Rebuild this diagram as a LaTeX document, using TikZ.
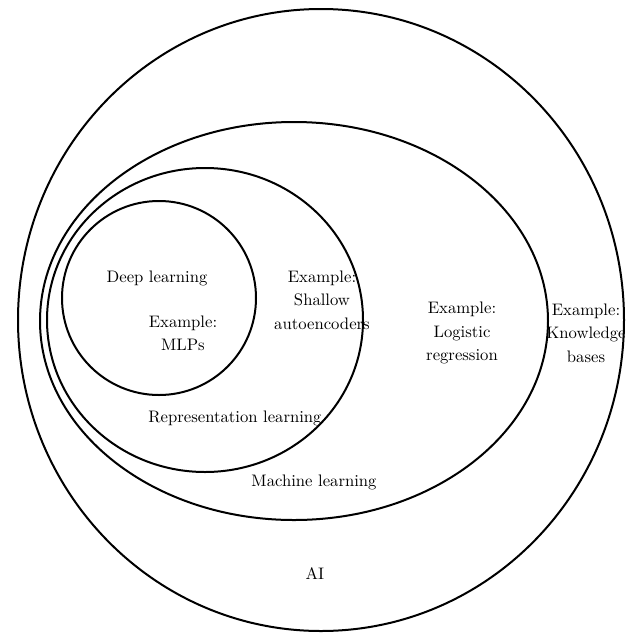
\documentclass[tikz,border=0pt]{standalone}
\begin{document}
\begin{tikzpicture}[x=0.6pt,y=-0.6pt,
  ring/.style={line width=1.2pt},
  lbl/.style={align=center,font=\normalsize,inner sep=0pt}]
\useasboundingbox (0,0) rectangle (640,636);
\draw[ring] (321,320) ellipse [x radius=303, y radius=311];
\draw[ring] (294,321) ellipse [x radius=254, y radius=199];
\draw[ring] (205,320) ellipse [x radius=158, y radius=152];
\draw[ring] (159,298) circle [radius=97];
\node[lbl] (dl) at (157,278) {Deep learning};
\node[lbl] (mlp) at (183,333) {Example:\\[2pt]MLPs};
\node[lbl] (sh) at (322,300) {Example:\\[2pt]Shallow\\[2pt]autoencoders};
\node[lbl] (rl) at (235,418) {Representation learning};
\node[lbl] (lr) at (462,333) {Example:\\[2pt]Logistic\\[2pt]regression};
\node[lbl] (ml) at (314,482) {Machine learning};
\node[lbl] (kb) at (586,333) {Example:\\[2pt]Knowledge\\[2pt]bases};
\node[lbl] (ai) at (315,574) {AI};
\end{tikzpicture}
\end{document}
